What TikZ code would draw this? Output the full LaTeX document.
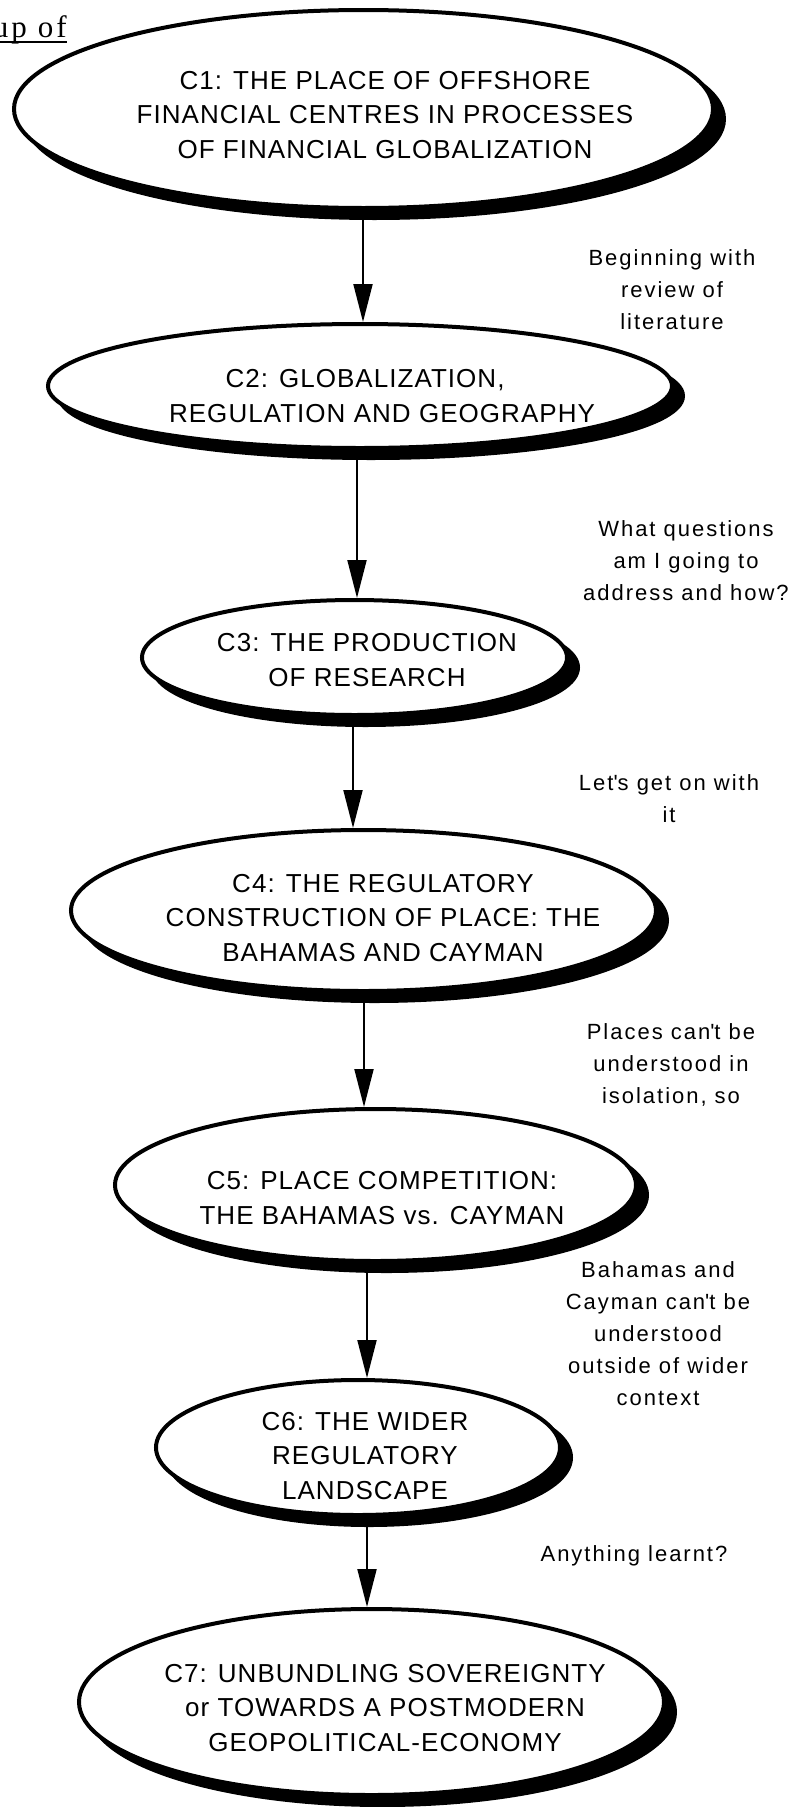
\documentclass[tikz,border=0pt]{standalone}
\usepackage{fontspec}
\setmainfont{Liberation Sans}
\newfontfamily\ovalfont[LetterSpace=4]{Liberation Sans}
\newfontfamily\notefont[LetterSpace=9]{Liberation Sans}
\newfontfamily\titlefont[LetterSpace=10]{Liberation Serif}
\usetikzlibrary{shapes.geometric,shadows,arrows.meta}
\pgfdeclarelayer{bg}
\pgfsetlayers{bg,main}
\begin{document}
\begin{tikzpicture}[x=1pt,y=-1pt,
  oval/.style={ellipse, draw=black, line width=4pt, fill=white, inner sep=0pt,
    general shadow={fill=black, draw=black, line width=4pt, shadow xshift=11pt, shadow yshift=-10pt}},
  ovaltext/.style={font=\ovalfont\fontsize{26}{34.5}\selectfont, align=center, inner sep=0pt},
  note/.style={font=\notefont\fontsize{22}{32}\selectfont, align=center, inner sep=0pt},
  arr/.style={line width=2pt, -{Triangle[length=38pt,width=19pt]}},
]
\useasboundingbox (0,0) rectangle (800,1807);

% title fragment
\node[font=\titlefont\fontsize{31}{33}\selectfont, anchor=base east, inner sep=0pt] (ttl) at (67,37) {up of};
\draw[line width=2pt] ([yshift=-5pt]ttl.base west) -- ([yshift=-5pt]ttl.base east);

% ellipses
\node[oval, minimum width=699pt, minimum height=198pt] (c1) at (363.5,109) {};
\node[oval, minimum width=624pt, minimum height=124pt] (c2) at (360,386) {};
\node[oval, minimum width=425pt, minimum height=115pt] (c3) at (354.5,657.5) {};
\node[oval, minimum width=585pt, minimum height=161pt] (c4) at (363.5,910.5) {};
\node[oval, minimum width=521pt, minimum height=152pt] (c5) at (375.5,1185) {};
\node[oval, minimum width=404pt, minimum height=135pt] (c6) at (358,1447.5) {};
\node[oval, minimum width=585pt, minimum height=186pt] (c7) at (371.5,1702) {};

% ellipse texts
\node[ovaltext] (c1t) at (385,115) {C1: THE PLACE OF OFFSHORE\\FINANCIAL CENTRES IN PROCESSES\\OF FINANCIAL GLOBALIZATION};
\node[ovaltext] (c2t) at (382,396) {C2: GLOBALIZATION,\hspace*{34pt}\\REGULATION AND GEOGRAPHY};
\node[ovaltext] (c3t) at (367,660) {C3: THE PRODUCTION\\OF RESEARCH};
\node[ovaltext] (c4t) at (383,918) {C4: THE REGULATORY\\CONSTRUCTION OF PLACE: THE\\BAHAMAS AND CAYMAN};
\node[ovaltext] (c5t) at (382,1198) {C5: PLACE COMPETITION:\\THE BAHAMAS vs. CAYMAN};
\node[ovaltext] (c6t) at (365,1456) {C6: THE WIDER\\REGULATORY\\LANDSCAPE};
\node[ovaltext] (c7t) at (385,1708) {C7: UNBUNDLING SOVEREIGNTY\\or TOWARDS A POSTMODERN\\GEOPOLITICAL-ECONOMY};

% side notes
\node[note] (l1) at (672,290) {Beginning with\\review of\\literature};
\node[note] (l2) at (686,561) {What questions\\am I going to\\address and how?};
\node[note] (l3) at (669,799) {Let\textquotesingle s get on with\\it};
\node[note] (l4) at (671,1065) {Places can\textquotesingle t be\\understood in\\isolation, so};
\node[note] (l5) at (658,1334) {Bahamas and\\Cayman can\textquotesingle t be\\understood\\outside of wider\\context};
\node[note] (l6) at (634,1556) {Anything learnt?};

% connectors
\begin{pgfonlayer}{bg}
\draw[arr] ([xshift=-0.5pt]c1.center) -- ([xshift=3pt]c2.north);
\draw[arr] ([xshift=-3pt]c2.center) -- ([xshift=2.5pt]c3.north);
\draw[arr] ([xshift=-1.5pt]c3.center) -- ([xshift=-10.5pt]c4.north);
\draw[arr] ([xshift=0.5pt]c4.center) -- ([xshift=-11.5pt]c5.north);
\draw[arr] ([xshift=-8.5pt]c5.center) -- ([xshift=9pt]c6.north);
\draw[arr] ([xshift=9pt]c6.center) -- ([xshift=-4.5pt]c7.north);
\end{pgfonlayer}
\end{tikzpicture}
\end{document}
